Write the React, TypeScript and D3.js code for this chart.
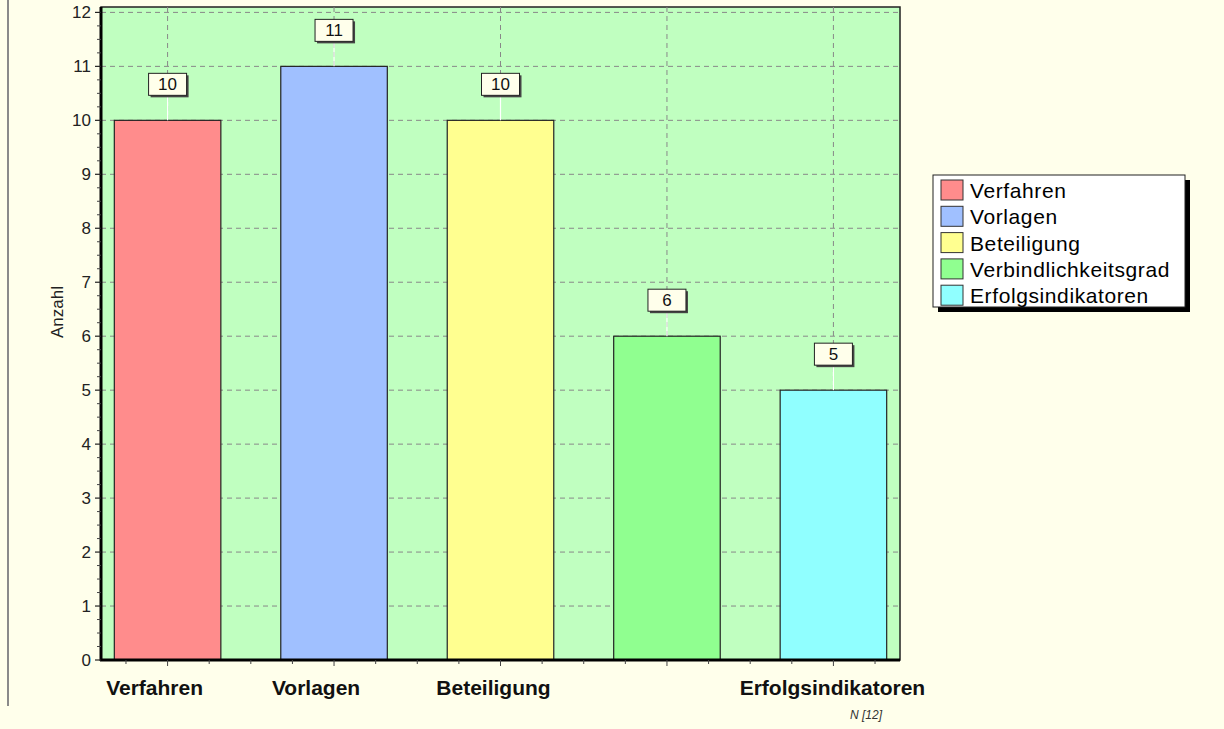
import React from 'react';
import * as d3 from 'd3';

const categories = ['Verfahren', 'Vorlagen', 'Beteiligung', 'Verbindlichkeitsgrad', 'Erfolgsindikatoren'];
const values = [10, 11, 10, 6, 5];
const colors = ['#ff8c8c', '#a0c0ff', '#ffff90', '#90ff90', '#90ffff'];
// axis label shown under each bar (the 4th one is hidden in the original)
const axisLabels = ['Verfahren', 'Vorlagen', 'Beteiligung', '', 'Erfolgsindikatoren'];
const yTicks = [0, 1, 2, 3, 4, 5, 6, 7, 8, 9, 10, 11, 12];

const W = 1224;
const H = 729;
const plot = { left: 101, right: 900, top: 7, bottom: 660 };
const font = 'Liberation Sans, Arial, sans-serif';
// the original nudges the first labels a bit to the left
const labelNudge = [-13, -18, -7, 0, -1];

const App: React.FC = () => {
  const x = d3.scaleLinear().domain([0.6, 5.4]).range([plot.left, plot.right]);
  const y = d3.scaleLinear().domain([0, 12.1]).range([plot.bottom, plot.top]);
  const barW = x(1.64) - x(1);

  const yMinor = d3.range(0, 12.01, 0.25).filter(v => Math.abs(v - Math.round(v)) > 0.01);
  const xMinor = d3.range(0.75, 5.4, 0.25);

  return (
    <svg width={W} height={H} style={{ position: 'absolute', left: 0, top: 0 }}>
      <rect x={0} y={0} width={W} height={H} fill="#ffffeb" />
      <line x1={8} x2={8} y1={0} y2={706} stroke="#8a8a8a" strokeWidth={2} />

      <rect x={plot.left} y={plot.top} width={plot.right - plot.left} height={plot.bottom - plot.top} fill="#c0ffc0" stroke="#222" strokeWidth={1.5} />

      {yTicks.map(t => (
        <line key={'gy' + t} x1={plot.left} x2={plot.right} y1={y(t)} y2={y(t)} stroke="#888" strokeDasharray="5,4" />
      ))}
      {categories.map((c, i) => (
        <line key={'gx' + c} x1={x(i + 1)} x2={x(i + 1)} y1={plot.top} y2={plot.bottom} stroke="#888" strokeDasharray="5,4" />
      ))}

      {values.map((v, i) => {
        const cx = x(i + 1);
        const by = y(v);
        const boxW = 38;
        const boxH = 22;
        const boxBottom = by - 25;
        return (
          <g key={'bar' + i}>
            <rect x={cx - barW / 2} y={by} width={barW} height={plot.bottom - by} fill={colors[i]} stroke="#222" strokeWidth={1.2} />
            <line x1={cx} x2={cx} y1={boxBottom} y2={by} stroke="#fff" strokeWidth={1.2} />
            <rect x={cx - boxW / 2 + 2} y={boxBottom - boxH + 2} width={boxW} height={boxH} fill="#444" />
            <rect x={cx - boxW / 2} y={boxBottom - boxH} width={boxW} height={boxH} fill="#ffffeb" stroke="#222" strokeWidth={1} />
            <text x={cx} y={boxBottom - 5} textAnchor="middle" fontFamily={font} fontSize={17} fill="#111">{v}</text>
          </g>
        );
      })}

      {/* axes */}
      <line x1={plot.left} x2={plot.left} y1={plot.top} y2={plot.bottom + 1} stroke="#000" strokeWidth={3} />
      <line x1={plot.left - 1} x2={plot.right} y1={plot.bottom} y2={plot.bottom} stroke="#000" strokeWidth={3} />

      {yTicks.map(t => (
        <g key={'yt' + t}>
          <line x1={plot.left - 6} x2={plot.left} y1={y(t)} y2={y(t)} stroke="#222" strokeWidth={1.2} />
          <text x={91} y={y(t) + 6} textAnchor="end" fontFamily={font} fontSize={17} fill="#222">{t}</text>
        </g>
      ))}
      {yMinor.map(t => (
        <line key={'ym' + t} x1={plot.left - 4} x2={plot.left} y1={y(t)} y2={y(t)} stroke="#444" strokeWidth={1} />
      ))}
      {xMinor.map(t => (
        <line key={'xm' + t} x1={x(t)} x2={x(t)} y1={plot.bottom} y2={plot.bottom + (Math.abs(t - Math.round(t)) < 0.01 ? 6 : 4)} stroke="#444" strokeWidth={1} />
      ))}

      {axisLabels.map((l, i) => (
        <text key={'xl' + i} x={x(i + 1) + labelNudge[i]} y={695} textAnchor="middle" fontFamily={font} fontSize={21} fontWeight="bold" fill="#111">{l}</text>
      ))}

      <text transform={`translate(63,312) rotate(-90)`} textAnchor="middle" fontFamily={font} fontSize={17} fill="#222">Anzahl</text>
      <text x={866} y={719} textAnchor="middle" fontFamily={font} fontSize={12} fontStyle="italic" fill="#333">N [12]</text>

      {/* legend */}
      <g>
        <rect x={938} y={180} width={252} height={132} fill="#000" />
        <rect x={933} y={175} width={252} height={132} fill="#fff" stroke="#222" strokeWidth={1} />
        {categories.map((c, i) => (
          <g key={'lg' + c} transform={`translate(941,${180 + i * 26.3})`}>
            <rect x={0} y={0} width={22} height={20} fill={colors[i]} stroke="#333" strokeWidth={1} />
            <text x={29} y={18} fontFamily={font} fontSize={21} letterSpacing={0.6} fill="#000">{c}</text>
          </g>
        ))}
      </g>
    </svg>
  );
};

export default App;
